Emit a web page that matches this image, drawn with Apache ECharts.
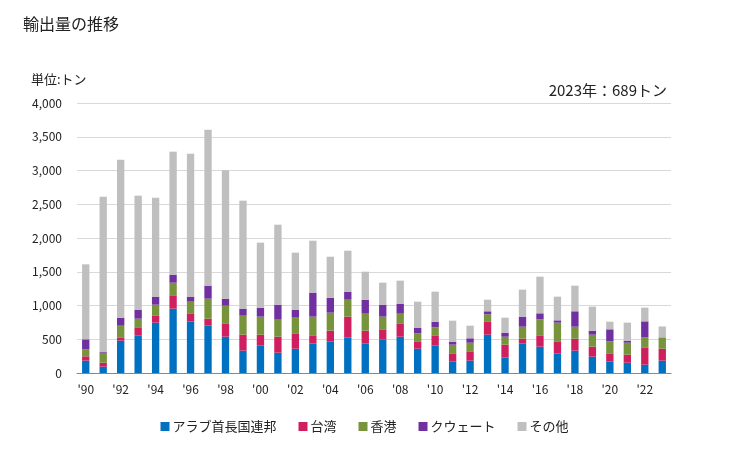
<!DOCTYPE html>
<html><head><meta charset="utf-8">
<script src="https://cdn.jsdelivr.net/npm/echarts@6/dist/echarts.min.js"></script>
<style>html,body{margin:0;padding:0;background:#fff}#c{width:729px;height:450px}</style>
</head><body><div id="c"></div>
<script>
const years = [1990,1991,1992,1993,1994,1995,1996,1997,1998,1999,2000,2001,2002,2003,2004,2005,2006,2007,2008,2009,2010,2011,2012,2013,2014,2015,2016,2017,2018,2019,2020,2021,2022,2023];
const uae    = [183,94,479,558,746,953,765,706,538,331,410,301,360,439,469,528,439,499,538,360,410,173,183,568,232,439,390,291,331,242,173,153,123,183];
const taiwan = [64,59,49,119,108,198,119,99,198,237,158,237,228,119,158,307,188,148,198,109,148,118,138,197,188,70,168,178,178,148,118,119,257,177];
const hongkong = [104,148,173,128,158,187,173,296,261,281,267,252,232,277,267,251,252,188,143,119,119,129,128,104,118,177,237,277,177,178,178,177,148,168];
const kuwait = [148,15,119,133,119,119,74,193,104,104,133,222,118,355,222,119,207,177,148,84,83,44,65,45,59,149,89,34,228,59,178,30,237,0];
const others = [1111,2296,2340,1689,1466,1822,2118,2311,1901,1600,963,1185,845,770,607,607,415,326,341,385,445,311,187,172,223,400,543,351,380,356,113,267,203,161];
const seriesNames = ['アラブ首長国連邦','台湾','香港','クウェート','その他'];
const colors = ['#0070c0','#d01f5f','#77933c','#7030a0','#bfbfbf'];
const yTicks = {min:0, max:4000, interval:500};

const font = '"Noto Sans CJK JP","Noto Sans",sans-serif';
const chart = echarts.init(document.getElementById('c'));
const dataSets = [uae, taiwan, hongkong, kuwait, others];
chart.setOption({
  animation:false,
  textStyle:{fontFamily:font},
  title:[
    {text:'輸出量の推移', left:18, top:11, textStyle:{fontSize:16, fontWeight:'normal', color:'#222', fontFamily:font}},
    {text:'単位:トン', left:26, top:68, textStyle:{fontSize:13, fontWeight:'normal', color:'#222', fontFamily:font}},
    {text:'2023年：689トン', right:57, top:78, textStyle:{fontSize:15, fontWeight:'normal', color:'#222', fontFamily:font}}
  ],
  grid:{left:77, right:58, top:103, bottom:77, containLabel:false},
  legend:{bottom:12, left:'center', icon:'rect', itemWidth:9, itemHeight:9, itemGap:22,
    textStyle:{fontSize:13, color:'#222', fontFamily:font, padding:[0,0,0,-2]},
    data:seriesNames},
  xAxis:{type:'category', data:years,
    axisLine:{lineStyle:{color:'#888'}}, axisTick:{show:false},
    axisLabel:{interval:1, color:'#222', fontSize:12, margin:10,
      formatter:v=>"'"+String(v).slice(2)}},
  yAxis:{type:'value', min:yTicks.min, max:yTicks.max, interval:yTicks.interval,
    axisLine:{show:false}, axisTick:{show:false},
    splitLine:{lineStyle:{color:'#d9d9d9'}},
    axisLabel:{color:'#222', fontSize:12, margin:15,
      formatter:v=>v.toLocaleString('en-US')}},
  series: seriesNames.map((n,i)=>({name:n, type:'bar', stack:'t', data:dataSets[i],
    barWidth:'42%', itemStyle:{color:colors[i]}}))
});
</script></body></html>
